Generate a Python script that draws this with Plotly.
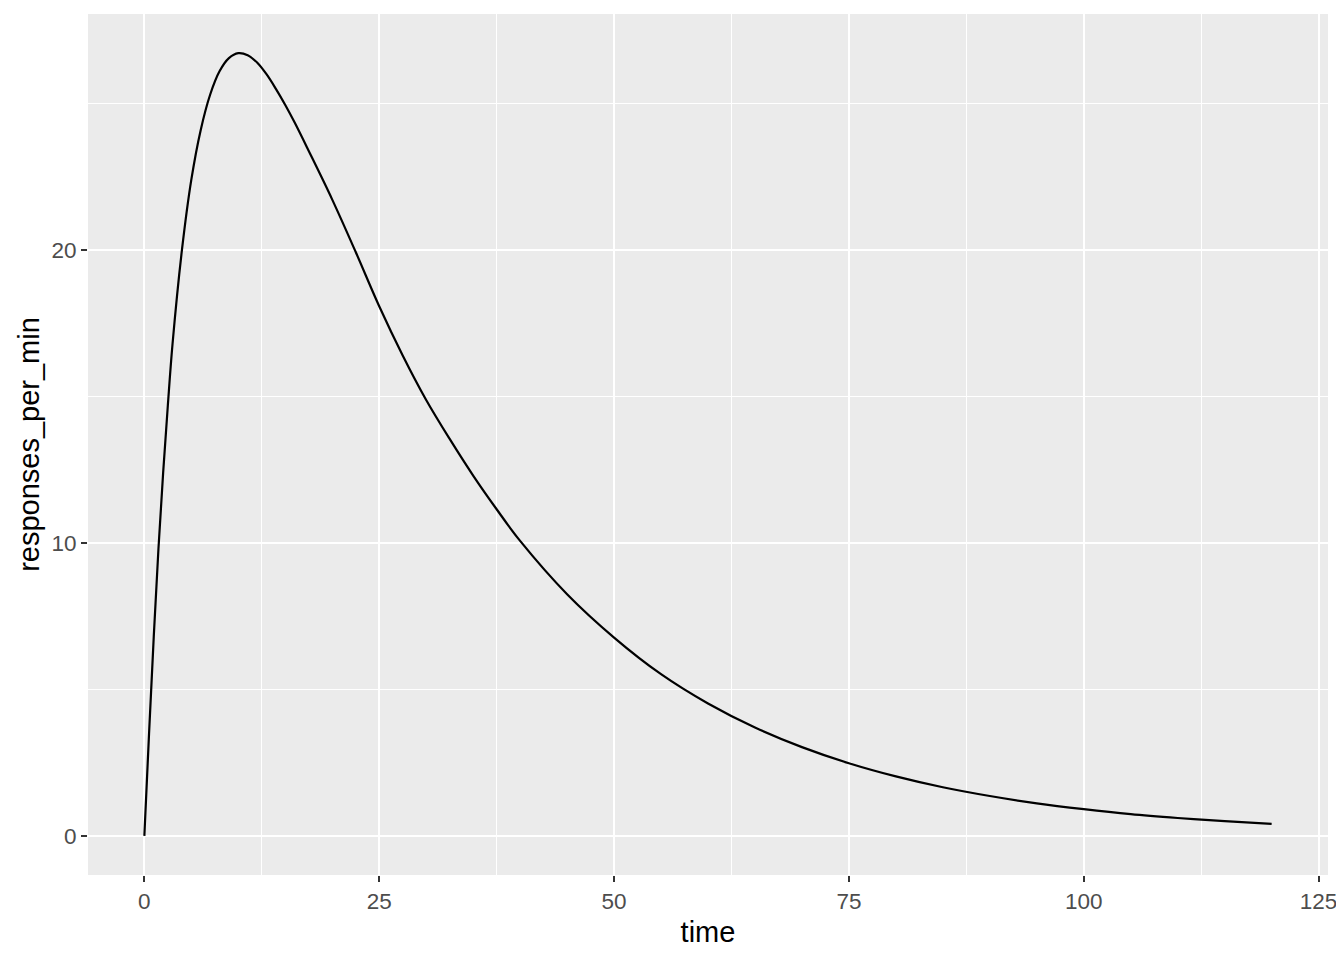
import plotly.graph_objects as go

# Values
time = [0, 0.5, 1, 1.5, 2, 2.5, 3, 4, 5, 6, 7, 8, 9, 10, 11, 12, 13, 14, 15, 16,
        17.5, 20, 22.5, 25, 27.5, 30, 32.5, 35, 37.5, 40, 45, 50, 55, 60, 65, 70,
        75, 80, 85, 90, 95, 100, 105, 110, 115, 120]
responses_per_min = [0, 3.5, 6.8, 9.8, 12.4, 14.7, 16.8, 20.0, 22.4, 24.1, 25.3,
                     26.1, 26.55, 26.72, 26.65, 26.4, 26.0, 25.5, 24.95, 24.35,
                     23.38, 21.72, 19.93, 18.08, 16.4, 14.88, 13.55, 12.3, 11.15,
                     10.07, 8.25, 6.77, 5.52, 4.52, 3.70, 3.03, 2.48, 2.03, 1.66,
                     1.36, 1.11, 0.91, 0.74, 0.61, 0.50, 0.41]

x_ticks = [0, 25, 50, 75, 100, 125]
x_minor = [12.5, 37.5, 62.5, 87.5, 112.5]
y_ticks = [0, 10, 20]
y_minor = [5, 15, 25]

ymax = max(responses_per_min)
xmin, xmax = min(time), max(time)
xpad = (xmax - xmin) * 0.05
ypad = ymax * 0.05

fig = go.Figure()
fig.add_trace(go.Scatter(
    x=time, y=responses_per_min, mode="lines",
    line=dict(color="black", width=2.2, shape="spline", smoothing=1.0),
    showlegend=False, hoverinfo="x+y",
))

font_family = "Liberation Sans, Arial, Helvetica, sans-serif"

# page body has an 8px margin; size the figure so the panel lands where it should
fig.update_layout(
    width=1336, height=952,
    margin=dict(l=80, r=16, t=6, b=85, autoexpand=False),
    paper_bgcolor="white",
    plot_bgcolor="#EBEBEB",
    font=dict(family=font_family, color="#4D4D4D"),
    xaxis=dict(
        range=[xmin - xpad, xmax + xpad],
        tickvals=x_ticks, ticktext=[str(v) for v in x_ticks],
        showgrid=True, gridcolor="white", gridwidth=2.1,
        zeroline=False, showline=False, automargin=False,
        ticks="outside", ticklen=6, tickwidth=2, tickcolor="#333333",
        tickfont=dict(size=22.5, color="#4D4D4D", family=font_family),
        minor=dict(tickvals=x_minor, showgrid=True,
                   gridcolor="white", gridwidth=1.1, ticks=""),
        title=dict(text="time", font=dict(size=29, color="black", family=font_family),
                   standoff=8),
    ),
    yaxis=dict(
        range=[-ypad, ymax + ypad],
        tickvals=y_ticks, ticktext=[str(v) for v in y_ticks],
        showgrid=True, gridcolor="white", gridwidth=2.1,
        zeroline=False, showline=False, automargin=False,
        ticks="outside", ticklen=6, tickwidth=2, tickcolor="#333333",
        tickfont=dict(size=22.5, color="#4D4D4D", family=font_family),
        minor=dict(tickvals=y_minor, showgrid=True,
                   gridcolor="white", gridwidth=1.1, ticks=""),
        title=dict(text="responses_per_min",
                   font=dict(size=29, color="black", family=font_family),
                   standoff=3),
    ),
)

fig.write_html("out.html")
